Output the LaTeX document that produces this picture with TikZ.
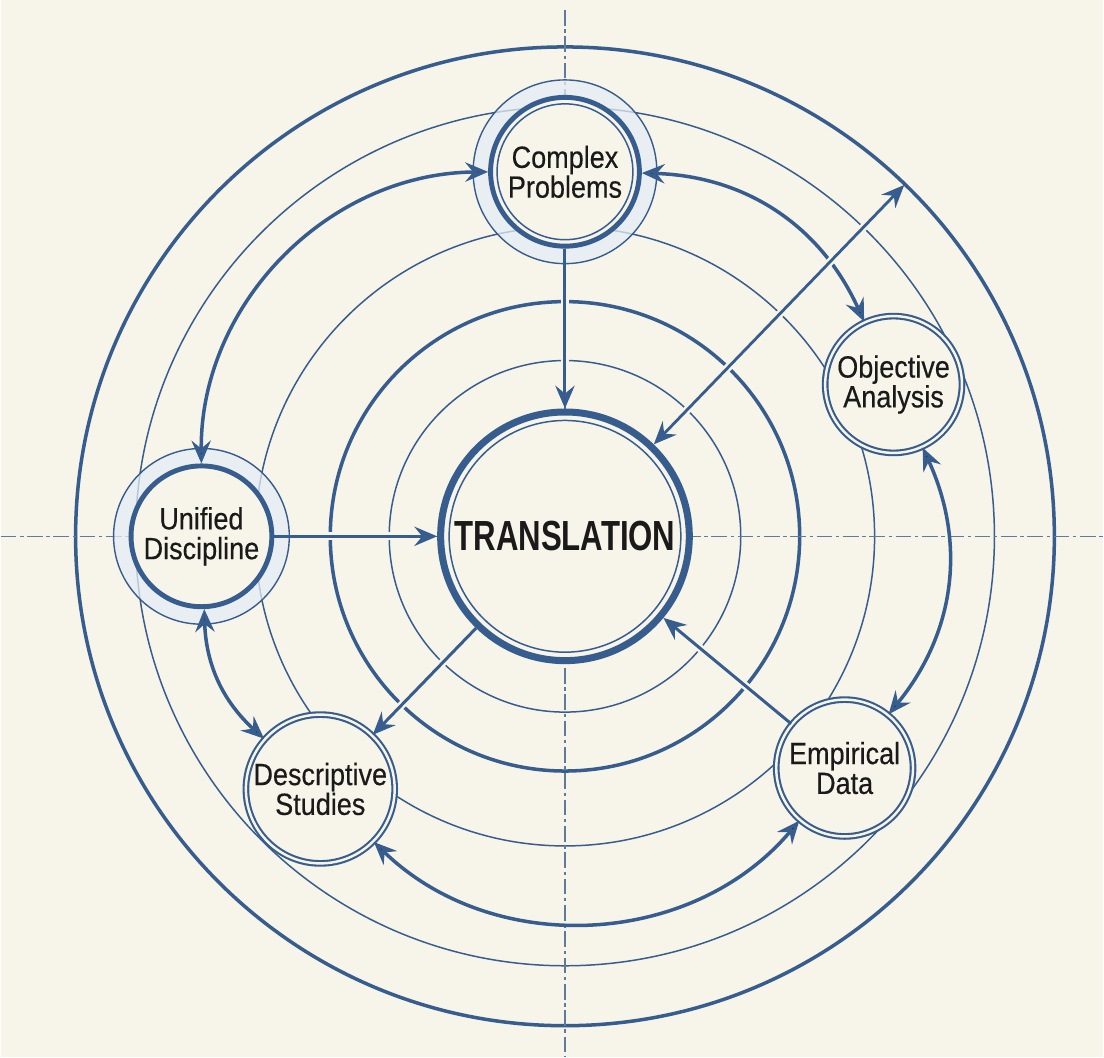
\documentclass[tikz,border=0pt]{standalone}
\usepackage{fontspec}
\setmainfont{Liberation Sans}[FakeStretch=0.88, FakeBold=0.4]
\newfontfamily\hubfont{Liberation Sans}[FakeStretch=0.74]
\usetikzlibrary{arrows.meta}
\definecolor{paper}{HTML}{F7F4EA}
\definecolor{ink}{HTML}{375D8E}
\definecolor{haze}{HTML}{E4ECF4}
\definecolor{axis}{HTML}{5F7A9C}
\definecolor{txt}{HTML}{1A1A1A}

\newcommand{\corenode}[5]{%
 \node[halo, minimum size=#3] (#1-halo) at (#2) {};%
 \node[core, minimum size=#4] (#1) at (#2) {#5};%
}

\begin{document}
\begin{tikzpicture}[x=0.02cm, y=0.02cm,
  >={Stealth[length=13pt,width=11pt,inset=4.5pt]},
  ring/.style={draw=ink, line width=0.85pt},
  bigring/.style={draw=ink, line width=2pt},
  axisline/.style={draw=axis, line width=0.8pt, dash pattern=on 9pt off 2pt on 2pt off 2pt},
  hub/.style={circle, draw=ink, line width=4pt, fill=paper, minimum size=4.98cm, inner sep=0pt, text=txt, font=\hubfont\bfseries\fontsize{24}{24}\selectfont},
  halo/.style={circle, draw=ink, line width=0.8pt, fill=haze, fill opacity=0.75, inner sep=0pt},
  core/.style={circle, draw=ink, line width=2.8pt, fill=paper, inner sep=0pt, align=center, text=txt, font=\fontsize{17.5}{17}\selectfont},
  topic/.style={circle, draw=ink, line width=1.2pt, double=paper, double distance=1.4pt, fill=paper, inner sep=0pt, align=center, text=txt, font=\fontsize{17.5}{17}\selectfont},
  flowarrow/.style={draw=ink, line width=1.7pt, ->},
  ringarrow/.style={draw=ink, line width=2pt, <->},
  cutgap/.style={preaction={draw=paper, line width=4.5pt, -, shorten >=12pt, shorten <=12pt}}
]
 \fill[paper] (-565,-521) rectangle (539,537);
 \foreach \r in {176,310,430} \draw[ring] (0,0) circle[radius=\r];
 \foreach \r in {235,490} \draw[bigring] (0,0) circle[radius=\r];
 \draw[axisline] (-565,0) -- (539,0);
 \draw[axisline] (0,527) -- (0,-521);

 \node[hub] (trans) at (0,0) {TRANSLATION};
 \draw[ring] (trans) circle[radius=116];
 \corenode{cp}{0,365}{3.68cm}{2.98cm}{Complex\\Problems}
 \draw[ring] (cp) circle[radius=68];
 \corenode{ud}{-364,0}{3.52cm}{2.82cm}{Unified\\Discipline}
 \node[topic, minimum size=2.74cm] (oa) at (329,152) {Objective\\Analysis};
 \node[topic, minimum size=2.98cm] (ds) at (-245,-253) {Descriptive\\Studies};
 \node[topic, minimum size=2.74cm] (ed) at (280,-232) {Empirical\\Data};
 \coordinate (rim) at (46:489);

 \path[ringarrow] (cp) edge[bend right=45] (ud)
                  (cp) edge[bend left=32] (oa)
                  (oa) edge[bend left=32] (ed)
                  (ed) edge[bend left=47] (ds)
                  (ds) edge[bend left=23] (ud);
 \draw[flowarrow, cutgap] (cp) -- (trans);
 \draw[flowarrow, cutgap] (ud) -- (trans);
 \draw[flowarrow, cutgap] (trans) -- (ds);
 \draw[flowarrow, cutgap] (ed) -- (trans);
 \draw[ringarrow, line width=1.6pt, cutgap] (trans) -- (rim);
\end{tikzpicture}
\end{document}
